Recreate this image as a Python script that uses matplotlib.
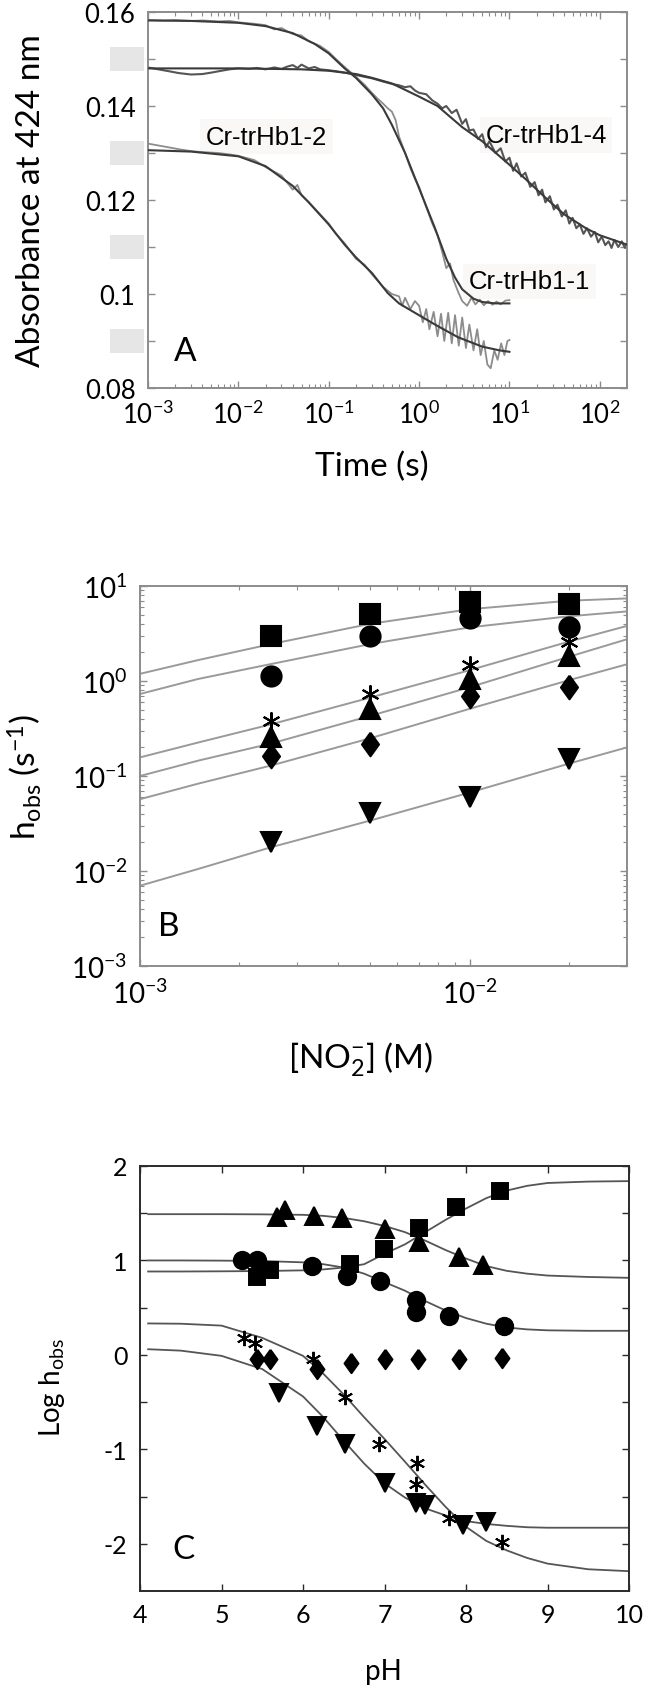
import numpy as np
import matplotlib
matplotlib.use('Agg')
import matplotlib.pyplot as plt
import matplotlib.transforms as mtransforms
from matplotlib.patches import Rectangle
from matplotlib.ticker import NullFormatter, LogLocator

plt.rcParams['font.family'] = ['Lato', 'DejaVu Sans']
plt.rcParams['mathtext.fontset'] = 'custom'
plt.rcParams['mathtext.rm'] = 'Lato'
plt.rcParams['mathtext.it'] = 'Lato:italic'
plt.rcParams['mathtext.bf'] = 'Lato:bold'
plt.rcParams['mathtext.default'] = 'regular'

# ---------------- Panel A: absorbance traces ----------------
t1 = [0.001, 0.0015, 0.002, 0.003, 0.004, 0.006, 0.008, 0.01, 0.015, 0.02, 0.025, 0.03,
      0.04, 0.05, 0.06, 0.08, 0.1, 0.12, 0.15, 0.2, 0.25, 0.3, 0.35, 0.4, 0.45, 0.5, 0.55,
      0.6, 0.7, 0.8, 0.9, 1.0, 1.2, 1.4, 1.6, 1.8, 2.0, 2.2, 2.4, 2.7, 3.0, 3.4, 3.8, 4.2,
      4.7, 5.2, 5.8, 6.5, 7.2, 8.0, 9.0, 10.0]
a1 = [0.1583, 0.1582, 0.1583, 0.1581, 0.1582, 0.1580, 0.1581, 0.1578, 0.1575, 0.1572, 0.1563, 0.1566,
      0.1553, 0.1550, 0.1538, 0.1528, 0.1515, 0.1500, 0.1483, 0.1462, 0.1445, 0.1428, 0.1415, 0.1405,
      0.1395, 0.1388, 0.1370, 0.1335, 0.1300, 0.1268, 0.1245, 0.1228, 0.1185, 0.1150, 0.1125, 0.1090,
      0.1055, 0.1065, 0.1030, 0.1005, 0.0985, 0.0975, 0.0992, 0.0978, 0.0988, 0.0976, 0.0985, 0.0977,
      0.0984, 0.0978, 0.0986, 0.0987]
t1_fit = [0.001, 0.003, 0.01, 0.02, 0.04, 0.07, 0.1, 0.15, 0.2, 0.3, 0.4, 0.5, 0.7, 1.0, 1.5,
          2.0, 2.5, 3.0, 4.0, 5.0, 7.0, 10.0]
a1_fit = [0.1582, 0.1581, 0.1577, 0.1570, 0.1555, 0.1532, 0.1512, 0.1480, 0.1460, 0.1425, 0.1395,
          0.1360, 0.1300, 0.1225, 0.1140, 0.1075, 0.1035, 0.1010, 0.0990, 0.0983, 0.0980, 0.0980]

t2 = [0.001, 0.0013, 0.0017, 0.0022, 0.003, 0.004, 0.006, 0.008, 0.01, 0.015, 0.02, 0.03, 0.04,
      0.045, 0.05, 0.06, 0.08, 0.1, 0.12, 0.15, 0.2, 0.25, 0.3, 0.4, 0.5, 0.6, 0.65, 0.7, 0.8, 0.9,
      1.0, 1.1, 1.2, 1.3, 1.45, 1.6, 1.75, 1.9, 2.1, 2.3, 2.5, 2.75, 3.0, 3.3, 3.6, 4.0, 4.4, 4.8,
      5.2, 5.7, 6.2, 6.8, 7.4, 8.1, 8.8, 9.5, 10.0]
a2 = [0.1320, 0.1316, 0.1312, 0.1308, 0.1304, 0.1302, 0.1300, 0.1297, 0.1294, 0.1285, 0.1270, 0.1252,
      0.1222, 0.1232, 0.1210, 0.1196, 0.1170, 0.1150, 0.1128, 0.1108, 0.1075, 0.1062, 0.1042, 0.1015,
      0.1000, 0.0995, 0.0975, 0.0992, 0.0968, 0.0985, 0.0975, 0.0940, 0.0968, 0.0925, 0.0962, 0.0910,
      0.0958, 0.0900, 0.0960, 0.0895, 0.0955, 0.0890, 0.0950, 0.0885, 0.0935, 0.0880, 0.0925, 0.0870,
      0.0900, 0.0850, 0.0842, 0.0880, 0.0860, 0.0895, 0.0870, 0.0900, 0.0902]
t2_fit = [0.001, 0.003, 0.01, 0.02, 0.04, 0.06, 0.1, 0.15, 0.2, 0.3, 0.45, 0.6, 0.9, 1.5, 2.7,
          5.0, 7.8, 10.0]
a2_fit = [0.1306, 0.1303, 0.1293, 0.1272, 0.1230, 0.1195, 0.1148, 0.1105, 0.1078, 0.1045, 0.1002,
          0.0980, 0.0960, 0.0935, 0.0908, 0.0888, 0.0880, 0.0877]

t4 = [0.001, 0.0013, 0.0017, 0.0022, 0.003, 0.004, 0.005, 0.0065, 0.008, 0.01, 0.013, 0.016, 0.02,
      0.025, 0.03, 0.035, 0.04, 0.045, 0.05, 0.06, 0.07, 0.08, 0.1, 0.12, 0.15, 0.2, 0.25, 0.3, 0.4,
      0.5, 0.6, 0.7, 0.8, 0.9, 1.0, 1.2, 1.4, 1.6, 1.8, 2.0, 2.3, 2.6, 3.0, 3.3, 3.6, 4.0, 4.5, 5.0,
      5.5, 6.0, 7.0, 8.0, 9.0, 10, 11, 12, 13.5, 15, 17, 19, 21, 23, 25, 28, 31, 34, 38, 42, 46, 50,
      55, 60, 66, 72, 80, 88, 96, 105, 115, 125, 135, 145, 160, 175, 190, 200]
a4 = [0.1482, 0.1478, 0.1474, 0.1470, 0.1467, 0.1468, 0.1471, 0.1475, 0.1478, 0.1480, 0.1479, 0.1481,
      0.1478, 0.1482, 0.1479, 0.1484, 0.1487, 0.1481, 0.1488, 0.1480, 0.1483, 0.1478, 0.1476, 0.1474,
      0.1471, 0.1466, 0.1462, 0.1459, 0.1452, 0.1447, 0.1444, 0.1440, 0.1442, 0.1433, 0.1428, 0.1425,
      0.1412, 0.1405, 0.1395, 0.1400, 0.1385, 0.1392, 0.1362, 0.1372, 0.1348, 0.1350, 0.1330, 0.1340,
      0.1312, 0.1325, 0.1300, 0.1310, 0.1282, 0.1290, 0.1262, 0.1278, 0.1250, 0.1258, 0.1228, 0.1238,
      0.1210, 0.1222, 0.1195, 0.1208, 0.1180, 0.1190, 0.1165, 0.1178, 0.1150, 0.1162, 0.1140, 0.1148,
      0.1128, 0.1140, 0.1122, 0.1132, 0.1110, 0.1122, 0.1104, 0.1112, 0.1098, 0.1115, 0.1100, 0.1112,
      0.1098, 0.1106]
t4_fit = [0.001, 0.01, 0.05, 0.1, 0.2, 0.3, 0.5, 1.0, 1.6, 3.0, 5.0, 10, 15, 25, 40, 70, 100, 200]
a4_fit = [0.1480, 0.1480, 0.1478, 0.1475, 0.1468, 0.1460, 0.1448, 0.1420, 0.1400, 0.1355, 0.1325,
          0.1275, 0.1245, 0.1205, 0.1170, 0.1140, 0.1125, 0.1105]

a_xticks = [1e-3, 1e-2, 1e-1, 1e0, 1e1, 1e2]
a_xlabels = ['10$^{-3}$', '10$^{-2}$', '10$^{-1}$', '10$^{0}$', '10$^{1}$', '10$^{2}$']
a_yticks = [0.08, 0.09, 0.10, 0.11, 0.12, 0.13, 0.14, 0.15, 0.16]
a_ylabels = ['0.08', '', '0.1', '', '0.12', '', '0.14', '', '0.16']
a_hidden = [0.09, 0.11, 0.13, 0.15]

# ---------------- Panel B: h_obs vs nitrite ----------------
conc = [2.5e-3, 5e-3, 1e-2, 2e-2]
b_square = [2.95, 5.07, 6.8, 6.5]
b_circle = [1.14, 3.0, 4.57, 3.67]
b_star = [0.38, 0.73, 1.47, 2.6]
b_tri = [0.255, 0.51, 1.05, 1.85]
b_diam = [0.164, 0.217, 0.70, 0.86]
b_tridown = [0.020, 0.041, 0.060, 0.151]

conc_fit = [1e-3, 1.5e-3, 2.5e-3, 5e-3, 1e-2, 2e-2, 3e-2]
b_fits = [
    [1.19, 1.66, 2.45, 4.0, 5.7, 7.0, 7.4],
    [0.73, 1.05, 1.51, 2.45, 3.67, 4.8, 5.4],
    [0.157, 0.225, 0.35, 0.67, 1.3, 2.6, 3.8],
    [0.10, 0.145, 0.22, 0.43, 0.86, 1.8, 2.75],
    [0.057, 0.083, 0.129, 0.25, 0.51, 1.02, 1.5],
    [0.0070, 0.0105, 0.0178, 0.034, 0.067, 0.135, 0.20],
]
b_xticks = [1e-3, 1e-2]
b_xlabels = ['10$^{-3}$', '10$^{-2}$']
b_yticks = [1e-3, 1e-2, 1e-1, 1e0, 1e1]
b_ylabels = ['10$^{-3}$', '10$^{-2}$', '10$^{-1}$', '10$^{0}$', '10$^{1}$']

# ---------------- Panel C: log h_obs vs pH ----------------
c_sq_ph = [5.43, 5.6, 6.58, 6.99, 7.42, 7.88, 8.42]
c_sq = [0.823, 0.894, 0.965, 1.124, 1.348, 1.567, 1.734]
c_tri_ph = [5.68, 5.78, 6.14, 6.48, 7.01, 7.42, 7.91, 8.21]
c_tri = [1.461, 1.532, 1.472, 1.45, 1.337, 1.195, 1.035, 0.947]
c_circ_ph = [5.25, 5.44, 6.11, 6.54, 6.94, 7.39, 7.39, 7.79, 8.47]
c_circ = [1.0, 1.0, 0.94, 0.84, 0.787, 0.585, 0.457, 0.408, 0.309]
c_diam_ph = [5.44, 5.6, 6.17, 6.59, 7.01, 7.41, 7.91, 8.44]
c_diam = [-0.046, -0.046, -0.145, -0.089, -0.039, -0.039, -0.046, -0.028]
c_star_ph = [5.27, 5.41, 6.12, 6.52, 6.93, 7.40, 7.39, 7.79, 8.44]
c_star = [0.184, 0.131, -0.039, -0.443, -0.946, -1.143, -1.364, -1.732, -1.982]
c_tdn_ph = [5.71, 6.17, 6.52, 7.0, 7.39, 7.5, 7.96, 8.24]
c_tdn = [-0.40, -0.75, -0.946, -1.357, -1.571, -1.589, -1.804, -1.768]

ph_fit = [4.1, 4.5, 5.0, 5.5, 6.0, 6.25, 6.5, 6.75, 7.0, 7.25, 7.5, 7.75, 8.0, 8.25, 8.5,
          8.75, 9.0, 9.5, 10.0]
c_fit_sq = [0.883, 0.883, 0.885, 0.888, 0.895, 0.905, 0.925, 0.96, 1.07, 1.17, 1.30, 1.43,
            1.55, 1.66, 1.74, 1.79, 1.82, 1.835, 1.84]
c_fit_tri = [1.49, 1.49, 1.49, 1.488, 1.483, 1.472, 1.45, 1.415, 1.365, 1.30, 1.21, 1.11,
             1.02, 0.94, 0.89, 0.86, 0.84, 0.825, 0.816]
c_fit_circ = [1.0, 1.0, 0.998, 0.994, 0.98, 0.96, 0.925, 0.86, 0.77, 0.68, 0.57, 0.47,
              0.39, 0.33, 0.29, 0.27, 0.26, 0.255, 0.255]
c_fit_star = [0.333, 0.33, 0.31, 0.18, -0.01, -0.20, -0.42, -0.66, -0.89, -1.13, -1.375,
              -1.61, -1.82, -1.97, -2.07, -2.15, -2.21, -2.27, -2.29]
c_fit_tdn = [0.06, 0.045, -0.01, -0.15, -0.44, -0.66, -0.91, -1.15, -1.36, -1.51, -1.625,
             -1.70, -1.76, -1.79, -1.81, -1.825, -1.83, -1.83, -1.83]

# ---------------- figure ----------------
W, H = 651, 1690
fig = plt.figure(figsize=(W / 100, H / 100), dpi=100)


def box(l, r, t, b):
    return [l / W, 1 - b / H, (r - l) / W, (b - t) / H]


axA = fig.add_axes(box(148, 627, 13, 389))
axB = fig.add_axes(box(140, 627, 587, 967))
axC = fig.add_axes(box(140, 629, 1167, 1592))

# tall diamond like the original symbol
diamond = [(0, 1), (0.72, 0), (0, -1), (-0.72, 0), (0, 1)]
asterisk = (6, 2, 0)

# Panel A
axA.plot(t1, a1, color='#8c8c8c', lw=1.3, zorder=2)
axA.plot(t2, a2, color='#8c8c8c', lw=1.3, zorder=2)
axA.plot(t4, a4, color='#555555', lw=1.5, zorder=2)
for t, a in [(t1_fit, a1_fit), (t2_fit, a2_fit), (t4_fit, a4_fit)]:
    axA.plot(t, a, color='#3a3a3a', lw=1.5, zorder=3)
axA.set_xscale('log')
axA.set_xlim(1e-3, 2e2)
axA.set_ylim(0.08, 0.16)
axA.set_xticks(a_xticks, labels=a_xlabels)
axA.xaxis.set_minor_locator(LogLocator(base=10, subs=np.arange(2, 10), numticks=50))
axA.xaxis.set_minor_formatter(NullFormatter())
axA.set_yticks(a_yticks, labels=a_ylabels)
ann_kw = dict(fontsize=18.5, family=['Liberation Sans', 'DejaVu Sans'], va='center', ha='left',
              zorder=1, bbox=dict(facecolor='#faf7f7', edgecolor='none', pad=4))
axA.text(0.0044, 0.1335, 'Cr-trHb1-2', **ann_kw)
axA.text(5.4, 0.1338, 'Cr-trHb1-4', **ann_kw)
axA.text(3.55, 0.1027, 'Cr-trHb1-1', **ann_kw)
axA.text(0.077, 0.098, 'A', transform=axA.transAxes, fontsize=24, ha='center', va='center')
trans = mtransforms.blended_transform_factory(axA.transAxes, axA.transData)
for v in a_hidden:
    axA.add_patch(Rectangle((-0.079, v - 0.0026), 0.071, 0.0052, transform=trans,
                            facecolor='#e6e6e6', edgecolor='none', clip_on=False, zorder=5))
axA.set_xlabel('Time (s)', fontsize=24)
axA.set_ylabel('Absorbance at 424 nm', fontsize=24)
axA.xaxis.set_label_coords(0.468, -0.207)
axA.yaxis.set_label_coords(-0.244, 0.5)

# Panel B
b_sets = [(b_square, 's', 14), (b_circle, 'o', 14.5), (b_star, asterisk, 13),
          (b_tri, '^', 15), (b_diam, diamond, 17), (b_tridown, 'v', 15)]
for f in b_fits:
    axB.plot(conc_fit, f, color='#9a9a9a', lw=1.4, zorder=2)
for vals, m, ms in b_sets:
    axB.plot(conc, vals, ls='none', marker=m, ms=ms, color='black', mew=1.5, zorder=3)
axB.set_xscale('log')
axB.set_yscale('log')
axB.set_xlim(1e-3, 3e-2)
axB.set_ylim(1e-3, 1e1)
axB.set_xticks(b_xticks, labels=b_xlabels)
axB.set_yticks(b_yticks, labels=b_ylabels)
for axis in (axB.xaxis, axB.yaxis):
    axis.set_minor_locator(LogLocator(base=10, subs=np.arange(2, 10), numticks=50))
    axis.set_minor_formatter(NullFormatter())
axB.text(0.06, 0.105, 'B', transform=axB.transAxes, fontsize=24, ha='center', va='center')
axB.set_xlabel('[NO$_2^{-}$] (M)', fontsize=24)
axB.set_ylabel('h$_{obs}$ (s$^{-1}$)', fontsize=24)
axB.xaxis.set_label_coords(0.454, -0.245)
axB.yaxis.set_label_coords(-0.236, 0.5)

# Panel C
for f in [c_fit_sq, c_fit_tri, c_fit_circ, c_fit_star, c_fit_tdn]:
    axC.plot(ph_fit, f, color='#555555', lw=1.3, zorder=2)
c_sets = [(c_sq_ph, c_sq, 's', 12), (c_tri_ph, c_tri, '^', 13), (c_circ_ph, c_circ, 'o', 12.5),
          (c_diam_ph, c_diam, diamond, 14), (c_star_ph, c_star, asterisk, 11),
          (c_tdn_ph, c_tdn, 'v', 13)]
for x, y, m, ms in c_sets:
    axC.plot(x, y, ls='none', marker=m, ms=ms, color='black', mew=1.4, zorder=3)
axC.set_xlim(4, 10)
axC.set_ylim(-2.5, 2)
axC.set_xticks([4, 5, 6, 7, 8, 9, 10])
axC.set_yticks([-2, -1.5, -1, -0.5, 0, 0.5, 1, 1.5, 2],
               labels=['-2', '', '-1', '', '0', '', '1', '', '2'])
axC.text(0.088, 0.099, 'C', transform=axC.transAxes, fontsize=24, ha='center', va='center')
axC.set_xlabel('pH', fontsize=20)
axC.set_ylabel('Log h$_{obs}$', fontsize=20)
axC.xaxis.set_label_coords(0.497, -0.188)
axC.yaxis.set_label_coords(-0.18, 0.48)

# shared styling
for ax, ec, fs in [(axA, '#8c8c8c', 18.5), (axB, '#8c8c8c', 20), (axC, '#2a2a2a', 18)]:
    for s in ax.spines.values():
        s.set_color(ec)
        s.set_linewidth(1.4)
    ax.tick_params(which='both', direction='in', top=True, right=True, color=ec,
                   labelsize=fs, pad=9)
    ax.tick_params(which='major', length=5, width=1.0)
    ax.tick_params(which='minor', length=3, width=0.8)
    ax.xaxis.label.set_va('center')
    ax.yaxis.label.set_va('center')

fig.savefig('out.png', dpi=100, facecolor='white')
